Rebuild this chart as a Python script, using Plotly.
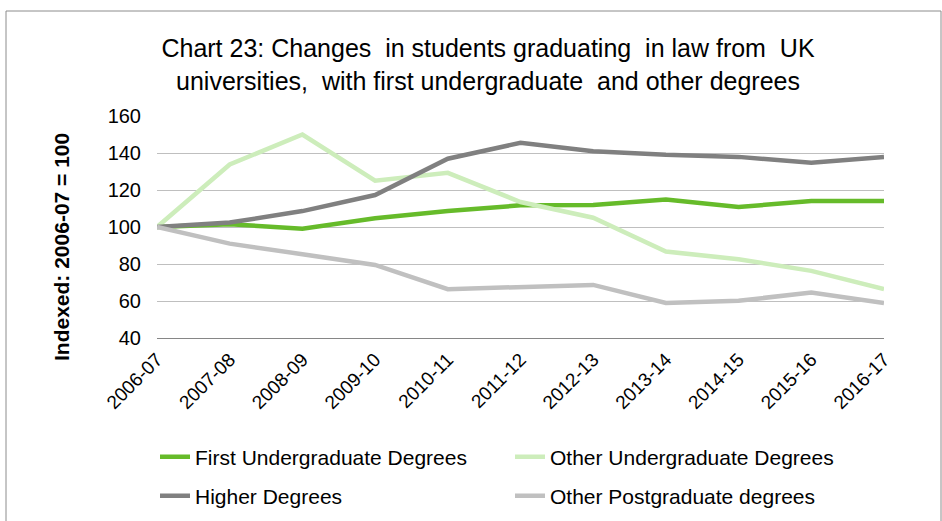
import plotly.graph_objects as go

# Academic years on the category axis
years = ["2006-07", "2007-08", "2008-09", "2009-10", "2010-11", "2011-12",
         "2012-13", "2013-14", "2014-15", "2015-16", "2016-17"]

# Graduate numbers indexed to 2006-07 = 100
first_ug = [100, 101.5, 99.1, 104.7, 108.6, 111.7, 111.9, 114.9, 110.8, 114.0, 114.0]
other_ug = [100, 133.8, 150.0, 125.0, 129.3, 113.5, 105.0, 86.7, 82.6, 76.3, 66.4]
higher = [100, 102.4, 108.6, 117.3, 136.9, 145.5, 141.0, 139.0, 137.9, 134.7, 137.9]
other_pg = [100, 91.0, 85.3, 79.5, 66.4, 67.3, 68.7, 58.9, 60.1, 64.6, 58.9]

series = [
    ("First Undergraduate Degrees", first_ug, "#66bb2a", "legend"),
    ("Other Undergraduate Degrees", other_ug, "#cdedbb", "legend"),
    ("Higher Degrees", higher, "#808080", "legend2"),
    ("Other Postgraduate degrees", other_pg, "#c0c0c0", "legend2"),
]

FONT = "Liberation Sans, Arial, sans-serif"
W, H = 942, 521
L, R, T, B = 157, 58, 116, 183
PW, PH = W - L - R, H - T - B


def px_x(p):
    return (p - L) / PW


def px_y(p):
    return (H - B - p) / PH


fig = go.Figure()
for name, vals, color, leg in series:
    fig.add_trace(go.Scatter(
        x=years, y=vals, name=name, mode="lines",
        line=dict(color=color, width=4.5),
        legend=leg,
    ))

legend_style = dict(
    orientation="h", xanchor="left", yanchor="middle",
    entrywidth=310, font=dict(size=21, family=FONT),
    bgcolor="rgba(0,0,0,0)",
)

fig.update_layout(
    width=W, height=H,
    margin=dict(l=L, r=R, t=T, b=B, autoexpand=False),
    paper_bgcolor="white", plot_bgcolor="white",
    font=dict(family=FONT, color="#000000"),
    title=dict(
        text="Chart 23: Changes  in students graduating  in law from  UK<br>"
             "universities,  with first undergraduate  and other degrees",
        font=dict(size=25, family=FONT, color="#000000"),
        x=px_x(488), xref="paper", xanchor="center",
        y=1 - 57 / H, yanchor="middle",
    ),
    xaxis=dict(
        type="category", range=[0, 10], automargin=False,
        showgrid=False, showline=True, linecolor="#868686", linewidth=1,
        tickangle=-45, tickfont=dict(size=19, family=FONT),
        ticks="", ticklabelstandoff=2,
    ),
    yaxis=dict(
        range=[40, 160], dtick=20, automargin=False,
        showgrid=True, gridcolor="#bfbfbf", gridwidth=1,
        zeroline=False, showline=False,
        tickfont=dict(size=20, family=FONT),
        ticklabelstandoff=15,
    ),
    annotations=[dict(
        text="<b>Indexed: 2006-07 = 100</b>", textangle=-90,
        xref="paper", yref="paper", x=px_x(61), y=px_y(247),
        xanchor="center", yanchor="middle", showarrow=False,
        font=dict(size=21, family=FONT, color="#000000"),
    )],
    legend=dict(legend_style, x=px_x(155), y=px_y(457)),
    legend2=dict(legend_style, x=px_x(155), y=px_y(496)),
    shapes=[dict(
        type="rect", xref="paper", yref="paper",
        x0=px_x(6), x1=px_x(941), y0=px_y(530), y1=px_y(11),
        line=dict(color="#8c8c8c", width=1), fillcolor="rgba(0,0,0,0)",
        layer="below",
    )],
)

fig.write_html("out.html")
